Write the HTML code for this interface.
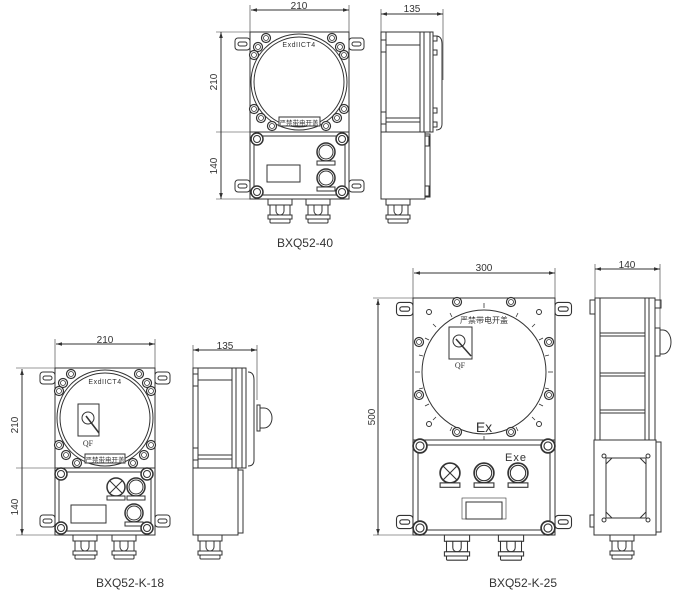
<!DOCTYPE html>
<html><head><meta charset="utf-8"><style>
html,body{margin:0;padding:0;background:#fff;}
svg{display:block;}
text{font-family:"Liberation Sans","Noto Sans CJK SC",sans-serif;fill:#333;}
text.serif{font-family:"Liberation Serif",serif;}
</style></head><body>
<svg width="691" height="599" viewBox="0 0 691 599" xmlns="http://www.w3.org/2000/svg">
<defs>
<marker id="a" viewBox="0 0 10 10" refX="10" refY="5" markerWidth="6" markerHeight="6" orient="auto-start-reverse"><path d="M0,2 L10,5 L0,8z" fill="#333"/></marker>
<g id="bolt"><circle r="4.5" fill="#fff" stroke="#333" stroke-width="1.2"/><circle r="2.5" fill="none" stroke="#333" stroke-width="0.8"/></g>
<g id="bigbolt"><circle r="6" fill="#fff" stroke="#333" stroke-width="1.5"/><circle r="3.5" fill="none" stroke="#333" stroke-width="1"/></g>
<g id="ear"><rect x="-15" y="-6" width="15" height="12" rx="3" fill="#fff" stroke="#333"/><rect x="-12" y="-2" width="9" height="4" rx="2" fill="none" stroke="#333"/></g>
<g id="gland"><rect x="-12" y="0" width="24" height="6" fill="#fff" stroke="#333"/><rect x="-10" y="6" width="20" height="10" fill="#fff" stroke="#333"/><path d="M-4,6 v6 a4,4 0 0 0 8,0 v-6" fill="none" stroke="#333"/><rect x="-12" y="16" width="24" height="4" fill="#fff" stroke="#333"/><rect x="-10" y="20" width="20" height="4" rx="1" fill="#fff" stroke="#333"/></g>
<g id="knob"><circle r="9" fill="#fff" stroke="#333" stroke-width="1.5"/><circle r="7" fill="none" stroke="#333"/><rect x="-9" y="9" width="18" height="4" fill="#fff" stroke="#333"/></g>
<g id="lamp"><circle r="9" fill="#fff" stroke="#333" stroke-width="1.5"/><path d="M-6,-6 L6,6 M6,-6 L-6,6" stroke="#333"/><rect x="-9" y="9" width="18" height="4" fill="#fff" stroke="#333"/></g>
</defs>
<g stroke="#333" fill="none" stroke-width="1">

<!-- ===== TOP: BXQ52-40 ===== -->
<line x1="251" y1="10" x2="349" y2="10" marker-start="url(#a)" marker-end="url(#a)"/>
<line x1="250" y1="5" x2="250" y2="32" stroke-width="0.6"/><line x1="349" y1="5" x2="349" y2="32" stroke-width="0.6"/>
<line x1="221" y1="32" x2="221" y2="199" marker-start="url(#a)" marker-end="url(#a)"/>
<line x1="216" y1="32" x2="250" y2="32" stroke-width="0.6"/><line x1="216" y1="132" x2="250" y2="132" stroke-width="0.6"/><line x1="216" y1="199" x2="250" y2="199" stroke-width="0.6"/>
<use href="#ear" x="250" y="44"/><use href="#ear" x="250" y="186" />
<use href="#ear" transform="translate(349,44) scale(-1,1)"/><use href="#ear" transform="translate(349,186) scale(-1,1)"/>
<rect x="250" y="32" width="99" height="100" fill="#fff"/>
<circle cx="299" cy="82" r="48"/><circle cx="299" cy="82" r="45"/>
<rect x="250" y="132" width="99" height="67" fill="#fff"/>
<rect x="254" y="136" width="91" height="59" rx="3"/>
<rect x="267" y="165" width="33" height="17"/>
<use href="#knob" x="326" y="152"/><use href="#knob" x="326" y="178"/>
<use href="#bigbolt" x="257" y="139"/><use href="#bigbolt" x="342" y="139"/><use href="#bigbolt" x="257" y="192"/><use href="#bigbolt" x="342" y="192"/>
<use href="#bolt" x="266" y="38"/><use href="#bolt" x="332" y="38"/><use href="#bolt" x="258" y="47"/><use href="#bolt" x="340" y="47"/><use href="#bolt" x="254" y="55"/><use href="#bolt" x="344" y="55"/>
<use href="#bolt" x="254" y="109"/><use href="#bolt" x="344" y="109"/><use href="#bolt" x="261" y="118"/><use href="#bolt" x="337" y="118"/><use href="#bolt" x="272" y="126"/><use href="#bolt" x="326" y="126"/>
<rect x="279" y="117" width="41" height="9" fill="#fff"/>
<use href="#gland" x="280" y="199"/><use href="#gland" x="318" y="199"/>
<!-- side -->
<line x1="381" y1="14" x2="443" y2="14" marker-start="url(#a)" marker-end="url(#a)"/>
<line x1="381" y1="9" x2="381" y2="32" stroke-width="0.6"/><line x1="443" y1="9" x2="443" y2="80" stroke-width="0.6"/>
<rect x="381" y="32" width="52" height="100" fill="#fff"/>
<line x1="386" y1="32" x2="386" y2="132"/><line x1="420" y1="32" x2="420" y2="132"/><line x1="424" y1="32" x2="424" y2="132"/><line x1="430" y1="32" x2="430" y2="132"/>
<line x1="386" y1="45" x2="420" y2="45"/><line x1="386" y1="118" x2="420" y2="118"/><line x1="386" y1="122" x2="420" y2="122"/>
<rect x="381" y="40" width="5" height="12"/><rect x="381" y="112" width="5" height="12"/>
<path d="M436,36 q6,0 6,8 v80 q0,6 -6,6"/>
<rect x="433" y="36" width="4" height="5"/><rect x="433" y="50" width="4" height="5"/><rect x="433" y="108" width="4" height="5"/><rect x="433" y="122" width="4" height="5"/>
<rect x="381" y="132" width="44" height="67" fill="#fff"/><rect x="425" y="134" width="5" height="63"/>
<rect x="425" y="136" width="4" height="10"/><rect x="425" y="186" width="4" height="10"/>
<use href="#gland" x="398" y="199"/>

<!-- ===== BOTTOM LEFT: BXQ52-K-18 ===== -->
<line x1="56" y1="344" x2="155" y2="344" marker-start="url(#a)" marker-end="url(#a)"/>
<line x1="55" y1="339" x2="55" y2="368" stroke-width="0.6"/><line x1="155" y1="339" x2="155" y2="368" stroke-width="0.6"/>
<line x1="22" y1="369" x2="22" y2="535" marker-start="url(#a)" marker-end="url(#a)"/>
<line x1="16" y1="368" x2="55" y2="368" stroke-width="0.6"/><line x1="16" y1="468" x2="55" y2="468" stroke-width="0.6"/><line x1="16" y1="535" x2="55" y2="535" stroke-width="0.6"/>
<use href="#ear" x="55" y="378"/><use href="#ear" x="55" y="521"/>
<use href="#ear" transform="translate(155,378) scale(-1,1)"/><use href="#ear" transform="translate(155,521) scale(-1,1)"/>
<rect x="55" y="368" width="100" height="100" fill="#fff"/>
<circle cx="105" cy="418" r="48"/><circle cx="105" cy="418" r="45"/>
<rect x="78" y="404" width="21" height="32"/><circle cx="88" cy="418" r="6"/><line x1="86" y1="416" x2="99" y2="433" stroke-width="1.5"/>
<use href="#bolt" x="71" y="374"/><use href="#bolt" x="139" y="374"/><use href="#bolt" x="63" y="383"/><use href="#bolt" x="147" y="383"/><use href="#bolt" x="59" y="391"/><use href="#bolt" x="151" y="391"/>
<use href="#bolt" x="59" y="445"/><use href="#bolt" x="151" y="445"/><use href="#bolt" x="66" y="455"/><use href="#bolt" x="144" y="455"/><use href="#bolt" x="77" y="463"/><use href="#bolt" x="133" y="463"/>
<rect x="85" y="454" width="40" height="9" fill="#fff"/>
<rect x="55" y="468" width="100" height="67" fill="#fff"/>
<rect x="59" y="472" width="92" height="59" rx="3"/>
<rect x="71" y="505" width="35" height="18"/>
<use href="#lamp" x="116" y="487"/><use href="#knob" x="136" y="487"/><use href="#knob" x="134" y="513"/>
<use href="#bigbolt" x="61" y="474"/><use href="#bigbolt" x="147" y="474"/><use href="#bigbolt" x="61" y="528"/><use href="#bigbolt" x="147" y="528"/>
<use href="#gland" x="85" y="535"/><use href="#gland" x="124" y="535"/>
<!-- side -->
<line x1="193" y1="350" x2="257" y2="350" marker-start="url(#a)" marker-end="url(#a)"/>
<line x1="193" y1="345" x2="193" y2="368" stroke-width="0.6"/><line x1="257" y1="345" x2="257" y2="400" stroke-width="0.6"/>
<rect x="193" y="368" width="53" height="100" fill="#fff"/>
<line x1="198" y1="368" x2="198" y2="468"/><line x1="232" y1="368" x2="232" y2="468"/><line x1="236" y1="368" x2="236" y2="468"/><line x1="242" y1="368" x2="242" y2="468"/>
<line x1="198" y1="380" x2="232" y2="380"/><line x1="198" y1="455" x2="232" y2="455"/><line x1="198" y1="459" x2="232" y2="459"/>
<rect x="193" y="374" width="5" height="12"/><rect x="193" y="448" width="5" height="12"/>
<path d="M248,372 q6,0 6,8 v80 q0,6 -6,6"/>
<path d="M260,408 h4 a8,10 0 0 1 0,20 h-4 z" fill="#fff"/>
<rect x="257" y="405" width="3" height="26" fill="#fff"/>
<rect x="193" y="468" width="45" height="67" fill="#fff"/><rect x="238" y="470" width="5" height="63"/>
<use href="#gland" x="210" y="535"/>

<!-- ===== BOTTOM RIGHT: BXQ52-K-25 ===== -->
<line x1="414" y1="273" x2="555" y2="273" marker-start="url(#a)" marker-end="url(#a)"/>
<line x1="413" y1="268" x2="413" y2="298" stroke-width="0.6"/><line x1="555" y1="268" x2="555" y2="298" stroke-width="0.6"/>
<line x1="378" y1="299" x2="378" y2="535" marker-start="url(#a)" marker-end="url(#a)"/>
<line x1="373" y1="298" x2="413" y2="298" stroke-width="0.6"/><line x1="373" y1="535" x2="413" y2="535" stroke-width="0.6"/>
<use href="#ear" transform="translate(413,309) scale(1.1)"/><use href="#ear" transform="translate(413,522) scale(1.1)"/>
<use href="#ear" transform="translate(555,309) scale(-1.1,1.1)"/><use href="#ear" transform="translate(555,522) scale(-1.1,1.1)"/>
<rect x="413" y="298" width="142" height="142" fill="#fff"/>
<circle cx="484" cy="372" r="62"/>
<g stroke-width="0.8">
<line x1="484" y1="303" x2="484" y2="308"/><line x1="484" y1="436" x2="484" y2="441"/><line x1="415" y1="372" x2="420" y2="372"/><line x1="548" y1="372" x2="553" y2="372"/>
<line x1="450" y1="313" x2="452" y2="317"/><line x1="518" y1="313" x2="516" y2="317"/><line x1="425" y1="338" x2="429" y2="340"/><line x1="543" y1="338" x2="539" y2="340"/>
<line x1="425" y1="406" x2="429" y2="404"/><line x1="543" y1="406" x2="539" y2="404"/><line x1="450" y1="431" x2="452" y2="427"/><line x1="518" y1="431" x2="516" y2="427"/>
<line x1="433" y1="324" x2="436" y2="327"/><line x1="535" y1="324" x2="532" y2="327"/><line x1="433" y1="420" x2="436" y2="417"/><line x1="535" y1="420" x2="532" y2="417"/>
<line x1="419" y1="355" x2="423" y2="356"/><line x1="549" y1="355" x2="545" y2="356"/><line x1="419" y1="389" x2="423" y2="388"/><line x1="549" y1="389" x2="545" y2="388"/>
</g>
<circle cx="429" cy="312" r="2.5"/><circle cx="539" cy="312" r="2.5"/><circle cx="429" cy="424" r="2.5"/><circle cx="539" cy="424" r="2.5"/>
<use href="#bolt" x="457" y="302"/><use href="#bolt" x="511" y="302"/><use href="#bolt" x="419" y="342"/><use href="#bolt" x="549" y="342"/>
<use href="#bolt" x="419" y="395"/><use href="#bolt" x="549" y="395"/><use href="#bolt" x="457" y="432"/><use href="#bolt" x="511" y="432"/>
<rect x="449" y="327" width="23" height="32"/><circle cx="459" cy="341" r="6"/><line x1="456" y1="339" x2="471" y2="356" stroke-width="1.5"/>
<rect x="413" y="440" width="142" height="95" fill="#fff"/>
<rect x="418" y="445" width="132" height="85" rx="3"/>
<use href="#lamp" transform="translate(450,473) scale(1.1)"/><use href="#knob" transform="translate(484,473) scale(1.1)"/><use href="#knob" transform="translate(518,473) scale(1.1)"/>
<rect x="462" y="498" width="44" height="21" stroke-width="0.6"/><rect x="466" y="502" width="36" height="17"/>
<use href="#bigbolt" transform="translate(420,446) scale(1.15)"/><use href="#bigbolt" transform="translate(548,446) scale(1.15)"/><use href="#bigbolt" transform="translate(420,528) scale(1.15)"/><use href="#bigbolt" transform="translate(548,528) scale(1.15)"/>
<use href="#gland" transform="translate(457,535) scale(1.05)"/><use href="#gland" transform="translate(511,535) scale(1.05)"/>
<!-- side -->
<line x1="595" y1="269" x2="660" y2="269" marker-start="url(#a)" marker-end="url(#a)"/>
<line x1="595" y1="264" x2="595" y2="298" stroke-width="0.6"/><line x1="660" y1="264" x2="660" y2="330" stroke-width="0.6"/>
<rect x="595" y="298" width="60" height="142" fill="#fff"/>
<line x1="600" y1="298" x2="600" y2="440"/><line x1="645" y1="298" x2="645" y2="440"/><line x1="649" y1="298" x2="649" y2="440"/>
<line x1="600" y1="333" x2="645" y2="333"/><line x1="600" y1="336" x2="645" y2="336"/><line x1="600" y1="373" x2="645" y2="373"/><line x1="600" y1="376" x2="645" y2="376"/><line x1="600" y1="410" x2="645" y2="410"/><line x1="600" y1="413" x2="645" y2="413"/>
<rect x="590" y="300" width="5" height="14"/><rect x="655" y="300" width="6" height="8"/>
<path d="M660,330 h3 a8,12 0 0 1 0,24 h-3 z" fill="#fff"/><rect x="655" y="328" width="5" height="28" fill="#fff"/>
<rect x="594" y="440" width="62" height="95" fill="#fff"/><rect x="656" y="442" width="5" height="90"/>
<path d="M606,458 h40 v60 h-40 z M606,464 l6,-6 M640,458 l6,6 M646,512 l-6,6 M612,518 l-6,-6" />
<circle cx="604" cy="456" r="2"/><circle cx="648" cy="456" r="2"/><circle cx="604" cy="520" r="2"/><circle cx="648" cy="520" r="2"/>
<rect x="590" y="515" width="4" height="12"/>
<use href="#gland" x="622" y="535"/>
</g>

<!-- text -->
<text x="299" y="9" font-size="10" text-anchor="middle">210</text>
<text x="412" y="12" font-size="10" text-anchor="middle">135</text>
<text x="217" y="82" font-size="10" text-anchor="middle" transform="rotate(-90 217 82)">210</text>
<text x="217" y="166" font-size="10" text-anchor="middle" transform="rotate(-90 217 166)">140</text>
<text x="299" y="47" font-size="7" text-anchor="middle" letter-spacing="0.5">ExdIICT4</text>
<text x="299" y="125" font-size="6.5" text-anchor="middle">严禁带电开盖</text>
<text x="305" y="247" font-size="12" text-anchor="middle">BXQ52-40</text>

<text x="105" y="343" font-size="10" text-anchor="middle">210</text>
<text x="225" y="349" font-size="10" text-anchor="middle">135</text>
<text x="18" y="425" font-size="10" text-anchor="middle" transform="rotate(-90 18 425)">210</text>
<text x="18" y="507" font-size="10" text-anchor="middle" transform="rotate(-90 18 507)">140</text>
<text x="105" y="384" font-size="7" text-anchor="middle" letter-spacing="0.5">ExdIICT4</text>
<text class="serif" x="88" y="446" font-size="8" text-anchor="middle">QF</text>
<text x="105" y="462" font-size="6.5" text-anchor="middle">严禁带电开盖</text>
<text x="130" y="587" font-size="12" text-anchor="middle">BXQ52-K-18</text>

<text x="484" y="271" font-size="10" text-anchor="middle">300</text>
<text x="627" y="268" font-size="10" text-anchor="middle">140</text>
<text x="375" y="417" font-size="10" text-anchor="middle" transform="rotate(-90 375 417)">500</text>
<text x="484" y="323" font-size="8" text-anchor="middle">严禁带电开盖</text>
<text class="serif" x="460" y="368" font-size="8" text-anchor="middle">QF</text>
<text x="484" y="432" font-size="14" text-anchor="middle">Ex</text>
<text x="516" y="461" font-size="11" text-anchor="middle" letter-spacing="1">Exe</text>
<text x="523" y="587" font-size="12" text-anchor="middle">BXQ52-K-25</text>
</svg>
</body></html>
